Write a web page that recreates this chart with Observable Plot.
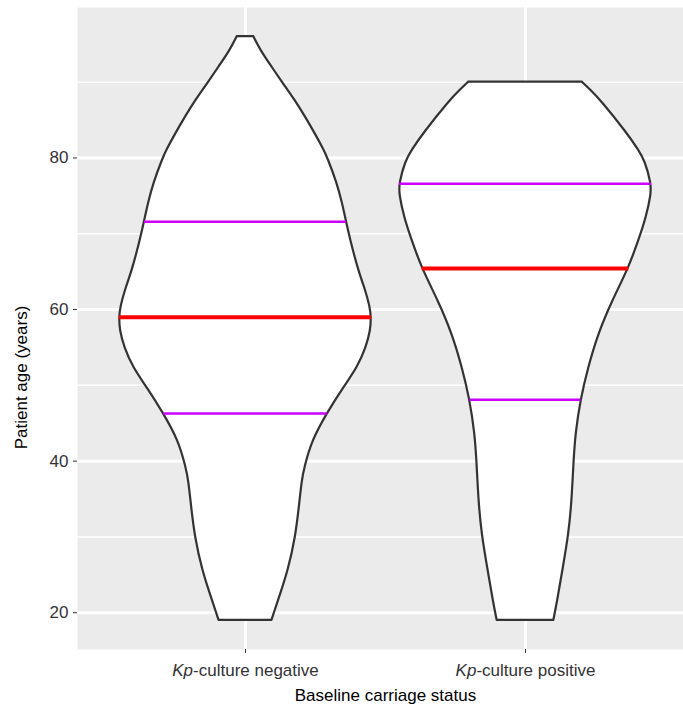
<!DOCTYPE html>
<html>
<head>
<meta charset="utf-8">
<script src="https://cdn.jsdelivr.net/npm/d3@7"></script>
<script src="https://cdn.jsdelivr.net/npm/@observablehq/plot@0.6"></script>
<style>
  html, body { margin: 0; padding: 0; background: white; overflow: hidden; }
</style>
</head>
<body>
<div id="chart"></div>
<script>
// ---- data ----
const categories = ["Kp-culture negative", "Kp-culture positive"];
const yTicks = [20, 40, 60, 80];
const yMinorTicks = [30, 50, 70, 90];

// violin profiles: age (years) and relative density (1 = widest point)
const negAge = [19, 21, 22, 25.5, 30, 34.3, 37.4, 39.1, 42.7, 46.3, 49.7, 52.3, 55, 57.2, 59, 60.3, 62.5, 65, 69.1, 71.7, 74, 76.6, 80.1, 81, 83, 85.3, 87.7, 89.8, 92, 94.2, 96];
const negDensity = [0.21, 0.25, 0.27, 0.34, 0.40, 0.43, 0.45, 0.47, 0.53, 0.65, 0.78, 0.89, 0.96, 0.995, 1.00, 0.99, 0.955, 0.90, 0.835, 0.80, 0.77, 0.73, 0.65, 0.625, 0.56, 0.48, 0.39, 0.30, 0.21, 0.12, 0.066];

const posAge = [19, 21.5, 25.9, 30.3, 34.7, 40, 43.6, 48.1, 52.3, 56.8, 61.1, 65.4, 69.1, 72.1, 75.2, 76.6, 79.6, 81, 83.2, 87.55, 88.9, 90];
const posDensity = [0.225, 0.255, 0.30, 0.345, 0.37, 0.385, 0.40, 0.44, 0.50, 0.58, 0.69, 0.82, 0.90, 0.96, 1.00, 1.00, 0.95, 0.90, 0.81, 0.60, 0.52, 0.45];

// quartiles (25%, 50%, 75%)
const negQuantiles = [46.3, 59.0, 71.6];
const posQuantiles = [48.1, 65.4, 76.6];

// ---- build tables ----
const maxHalfWidth = 0.45; // ggplot violin width 0.9
const profiles = [
  {cat: 1, age: negAge, dens: negDensity, q: negQuantiles},
  {cat: 2, age: posAge, dens: posDensity, q: posQuantiles}
];
const violinRows = profiles.flatMap(p => p.age.map((a, i) => ({cat: p.cat, age: a, dens: p.dens[i]})));

function densAt(p, a) {
  const i = d3.bisectLeft(p.age, a);
  if (i <= 0) return p.dens[0];
  if (i >= p.age.length) return p.dens[p.age.length - 1];
  const t = (a - p.age[i - 1]) / (p.age[i] - p.age[i - 1]);
  return p.dens[i - 1] + t * (p.dens[i] - p.dens[i - 1]);
}
const quantRows = profiles.flatMap(p => p.q.map((a, k) => ({cat: p.cat, age: a, k, dens: densAt(p, a)})));
const quartileRows = quantRows.filter(d => d.k !== 1);
const medianRows = quantRows.filter(d => d.k === 1);

const chart = Plot.plot({
  width: 683,
  height: 713,
  marginLeft: 77,
  marginRight: 0,
  marginTop: 7,
  marginBottom: 64,
  style: {fontFamily: "'Liberation Sans', Arial, Helvetica, sans-serif", fontSize: "17px", color: "#333", background: "white"},
  x: {domain: [0.4, 2.6], range: [77, 693], axis: null},
  y: {domain: [15.15, 99.85], axis: null},
  marks: [
    Plot.frame({fill: "#EBEBEB", stroke: "none"}),
    Plot.ruleY(yMinorTicks, {stroke: "white", strokeWidth: 1.5}),
    Plot.ruleY(yTicks, {stroke: "white", strokeWidth: 3}),
    Plot.ruleX([1, 2], {stroke: "white", strokeWidth: 3}),
    Plot.areaX(violinRows, {
      y: "age",
      x1: d => d.cat - d.dens * maxHalfWidth,
      x2: d => d.cat + d.dens * maxHalfWidth,
      z: "cat",
      fill: "white",
      stroke: "#333333",
      strokeWidth: 2.2,
      curve: "basis"
    }),
    Plot.ruleY(quartileRows, {
      y: "age",
      x1: d => d.cat - d.dens * maxHalfWidth,
      x2: d => d.cat + d.dens * maxHalfWidth,
      stroke: "#CC00FF",
      strokeWidth: 2.5
    }),
    Plot.ruleY(medianRows, {
      y: "age",
      x1: d => d.cat - d.dens * maxHalfWidth,
      x2: d => d.cat + d.dens * maxHalfWidth,
      stroke: "#FF0000",
      strokeWidth: 4
    }),
    Plot.axisY({ticks: yTicks, tickSize: 4, tickPadding: 5, label: null, fontSize: 17, stroke: "#333", fill: "#333"}),
    Plot.axisX({ticks: [1, 2], tickFormat: d => categories[d - 1], tickSize: 4, tickPadding: 10, label: null, fontSize: 17, stroke: "#333", fill: "#333"}),
    Plot.text(["Patient age (years)"], {frameAnchor: "left", textAnchor: "middle", rotate: -90, dx: -56, dy: 49, fill: "black", fontSize: 17}),
    Plot.text(["Baseline carriage status"], {frameAnchor: "bottom", textAnchor: "middle", dx: 5, dy: 51.5, fill: "black", fontSize: 17})
  ]
});

// italicize the "Kp" prefix of the category labels
chart.querySelectorAll("text").forEach(t => {
  const s = t.textContent;
  if (s.startsWith("Kp-")) {
    while (t.firstChild) t.removeChild(t.firstChild);
    const it = document.createElementNS("http://www.w3.org/2000/svg", "tspan");
    it.setAttribute("font-style", "italic");
    it.textContent = "Kp";
    const rest = document.createElementNS("http://www.w3.org/2000/svg", "tspan");
    rest.textContent = s.slice(2);
    t.appendChild(it);
    t.appendChild(rest);
  }
});

document.getElementById("chart").appendChild(chart);
</script>
</body>
</html>
